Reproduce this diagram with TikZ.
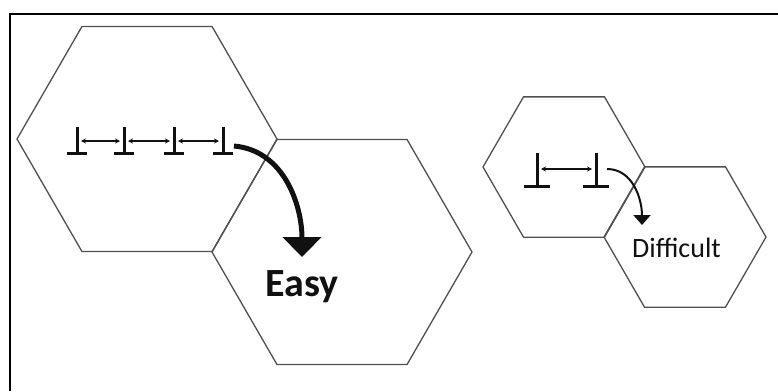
\documentclass[tikz,border=0pt]{standalone}
\usepackage{fontspec}
\setmainfont{Carlito}
\usepackage{tikz}
\usetikzlibrary{arrows.meta,shapes.geometric,calc}
\definecolor{ink}{HTML}{111111}
\definecolor{hexline}{HTML}{505050}
% x, y of foot, stem height, foot width
\newcommand{\spacerbar}[4]{%
  \draw[bar] (#1,#2) -- ++(0,#3);
  \draw[bar] (#1-#4/2,#2) -- ++(#4,0);}
\tikzset{
  hexcell/.style={regular polygon,regular polygon sides=6,draw=hexline,line width=1.3pt,inner sep=0pt,outer sep=0pt},
  bar/.style={draw=ink,line width=3pt},
  gap/.style={{Stealth[length=5pt,width=5pt]}-{Stealth[length=5pt,width=5pt]},line width=1.4pt,draw=ink},
  jump/.style={-{Triangle[length=20pt,width=38pt]},line width=5pt,draw=ink},
  hop/.style={-{Triangle[length=10pt,width=17pt]},line width=2pt,draw=ink},
}
\begin{document}
\begin{tikzpicture}[x=1pt,y=1pt]
\useasboundingbox (0,0) rectangle (778,-391);

% frame (only top and left edges show)
\draw[line width=2pt] (778,-14) -- (10,-14) -- (10,-391);

% ==== large cells ====
\node[hexcell,minimum size=260pt] (bigA) at (147,-139) {};
\node[hexcell,minimum size=260pt] (bigB) at (342,-252) {};

% ==== small cells ====
\node[hexcell,minimum size=162pt] (smallA) at (564,-167) {};
\node[hexcell,minimum size=162pt] (smallB) at (685,-237) {};

% ==== dense spacing ====
\foreach \x [count=\i] in {77,124,174,223} {
  \spacerbar{\x}{-153}{26}{20}
  \coordinate (d\i) at (\x,-141);
}
\draw[gap] ([xshift=4pt]d1) -- ([xshift=-4pt]d2);
\draw[gap] ([xshift=4pt]d2) -- ([xshift=-4pt]d3);
\draw[gap] ([xshift=4pt]d3) -- ([xshift=-4pt]d4);
\coordinate (dEnd) at (234,-146);

% ==== sparse spacing ====
\foreach \x [count=\i] in {537,596} {
  \spacerbar{\x}{-186}{33}{26}
  \coordinate (s\i) at (\x,-169);
}
\draw[gap] ([xshift=4pt]s1) -- ([xshift=-4pt]s2);
\coordinate (sEnd) at (607,-169);

% ==== labels ====
\node[font=\fontsize{40}{42}\selectfont\bfseries,text=ink,anchor=base] (easy) at (302,-296) {Easy};
\node[font=\fontsize{28}{30}\selectfont,text=ink,anchor=base west,inner sep=0pt] (hard) at (632,-257) {Difficult};

% ==== handover arrows ====
\draw[jump] (dEnd) to[out=-5,in=90] (302,-257);
\draw[hop] (sEnd) to[out=0,in=90] (642,-225);

\end{tikzpicture}
\end{document}
